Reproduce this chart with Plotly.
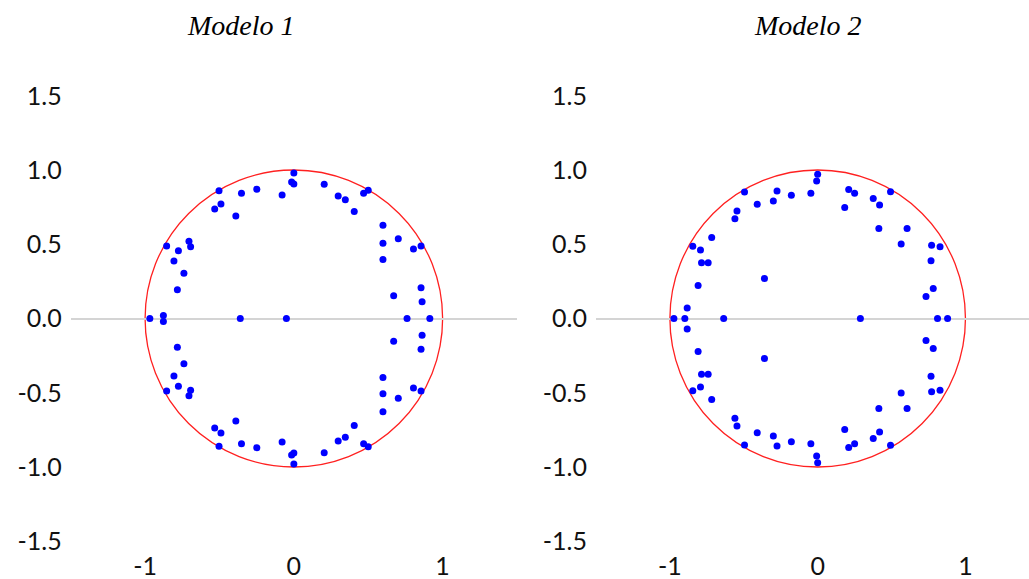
import plotly.graph_objects as go

# ---- Data (roots) ----
m1_re = [0.00, -0.015, 0.00, -0.503, -0.352, -0.249, -0.079, -0.49, -0.532, -0.39,
         -0.855, -0.705, -0.694, -0.776, -0.806, -0.739, -0.783, 0.204, 0.298, 0.346,
         0.406, 0.469, 0.50, 0.599, 0.702, 0.599, 0.804, 0.855, 0.599, 0.855, 0.671,
         0.862, -0.877,
         0.00, -0.015, 0.00, -0.503, -0.352, -0.249, -0.079, -0.49, -0.532, -0.39,
         -0.855, -0.705, -0.694, -0.776, -0.806, -0.739, -0.783, 0.204, 0.298, 0.346,
         0.406, 0.469, 0.50, 0.599, 0.702, 0.599, 0.804, 0.855, 0.599, 0.855, 0.671,
         0.862, -0.877,
         -0.968, -0.36, -0.05, 0.761, 0.914]
m1_im = [0.98, 0.92, 0.906, 0.861, 0.843, 0.870, 0.832, 0.771, 0.737, 0.69,
         0.488, 0.52, 0.484, 0.457, 0.387, 0.304, 0.194, 0.904, 0.825, 0.80,
         0.72, 0.843, 0.863, 0.628, 0.537, 0.506, 0.468, 0.488, 0.398, 0.207, 0.154,
         0.113, 0.02,
         -0.98, -0.92, -0.906, -0.861, -0.843, -0.870, -0.832, -0.771, -0.737, -0.69,
         -0.488, -0.52, -0.484, -0.457, -0.387, -0.304, -0.194, -0.904, -0.825, -0.80,
         -0.72, -0.843, -0.863, -0.628, -0.537, -0.506, -0.468, -0.488, -0.398, -0.207, -0.154,
         -0.113, -0.02,
         0.0, 0.0, 0.0, 0.0, 0.0]

m2_re = [0.0, -0.007, -0.495, -0.275, -0.409, -0.30, -0.178, -0.046, -0.546, -0.56,
         -0.717, -0.845, -0.793, -0.786, -0.741, -0.36, -0.809, -0.883, 0.21, 0.25,
         0.183, 0.376, 0.419, 0.493, 0.414, 0.605, 0.565, 0.771, 0.828, 0.767,
         0.782, 0.733,
         0.0, -0.007, -0.495, -0.275, -0.409, -0.30, -0.178, -0.046, -0.546, -0.56,
         -0.717, -0.845, -0.793, -0.786, -0.741, -0.36, -0.809, -0.883, 0.21, 0.25,
         0.183, 0.376, 0.419, 0.493, 0.414, 0.605, 0.565, 0.771, 0.828, 0.767,
         0.782, 0.733,
         -0.973, -0.899, -0.636, 0.289, 0.811, 0.879]
m2_im = [0.972, 0.926, 0.852, 0.859, 0.769, 0.792, 0.83, 0.844, 0.724, 0.671,
         0.545, 0.487, 0.462, 0.375, 0.375, 0.269, 0.222, 0.07, 0.869, 0.843,
         0.747, 0.808, 0.764, 0.853, 0.606, 0.606, 0.501, 0.494, 0.483, 0.389,
         0.202, 0.148,
         -0.972, -0.926, -0.852, -0.859, -0.769, -0.792, -0.83, -0.844, -0.724, -0.671,
         -0.545, -0.487, -0.462, -0.375, -0.375, -0.269, -0.222, -0.07, -0.869, -0.843,
         -0.747, -0.808, -0.764, -0.853, -0.606, -0.606, -0.501, -0.494, -0.483, -0.389,
         -0.202, -0.148,
         0.0, 0.0, 0.0, 0.0, 0.0, 0.0]

titles = ["Modelo 1", "Modelo 2"]
x_tickvals = [-1, 0, 1]
x_ticktext = ["-1", "0", "1"]
y_tickvals = [1.5, 1.0, 0.5, 0.0, -0.5, -1.0, -1.5]
y_ticktext = ["1.5", "1.0", "0.5", "0.0", "-0.5", "-1.0", "-1.5"]

W, H = 1029, 579
fig = go.Figure()

marker = dict(color="#0000FF", size=7, line=dict(width=0))
fig.add_trace(go.Scatter(x=m1_re, y=m1_im, mode="markers", marker=marker,
                         xaxis="x", yaxis="y", showlegend=False))
fig.add_trace(go.Scatter(x=m2_re, y=m2_im, mode="markers", marker=marker,
                         xaxis="x2", yaxis="y2", showlegend=False))

# unit circles
for xr, yr in (("x", "y"), ("x2", "y2")):
    fig.add_shape(type="circle", xref=xr, yref=yr, x0=-1, y0=-1, x1=1, y1=1,
                  line=dict(color="#FF2020", width=1.3), layer="below")

tickfont = dict(family="Lato, Open Sans, sans-serif", size=25, color="#111111")
ydom = [1 - 541.25 / H, 1 - 95.75 / H]

common_x = dict(tickvals=x_tickvals, ticktext=x_ticktext, showgrid=False, zeroline=False,
                showline=False, ticks="", tickfont=tickfont, fixedrange=True,
                automargin=False, ticklabelstandoff=8)
common_y = dict(tickvals=y_tickvals, ticktext=y_ticktext, showgrid=False, zeroline=True,
                zerolinecolor="#D4D4D4", zerolinewidth=1.5, showline=False, ticks="",
                tickfont=tickfont, range=[-1.5, 1.5], domain=ydom, fixedrange=True,
                automargin=False, ticklabelstandoff=8)

fig.update_layout(
    template="none",
    width=W, height=H,
    margin=dict(l=0, r=0, t=0, b=0, autoexpand=False),
    paper_bgcolor="white", plot_bgcolor="white",
    xaxis=dict(common_x, range=[-1.5, 1.5], domain=[70.7 / W, 517 / W], anchor="y"),
    yaxis=dict(common_y, anchor="x"),
    xaxis2=dict(common_x, range=[-1.5, 1.43], domain=[596 / W, 1.0], anchor="y2"),
    yaxis2=dict(common_y, anchor="x2"),
)

for t, cx in zip(titles, [241, 808]):
    fig.add_annotation(text="<i>" + t + "</i>", xref="paper", yref="paper",
                       x=cx / W, y=1 - 25 / H, showarrow=False,
                       xanchor="center", yanchor="middle",
                       font=dict(family="Liberation Serif, Times New Roman, serif",
                                 size=28, color="black"))

fig.write_html("out.html", config={"displayModeBar": False},
               post_script="document.body.style.margin='0';document.body.style.overflow='hidden';")
